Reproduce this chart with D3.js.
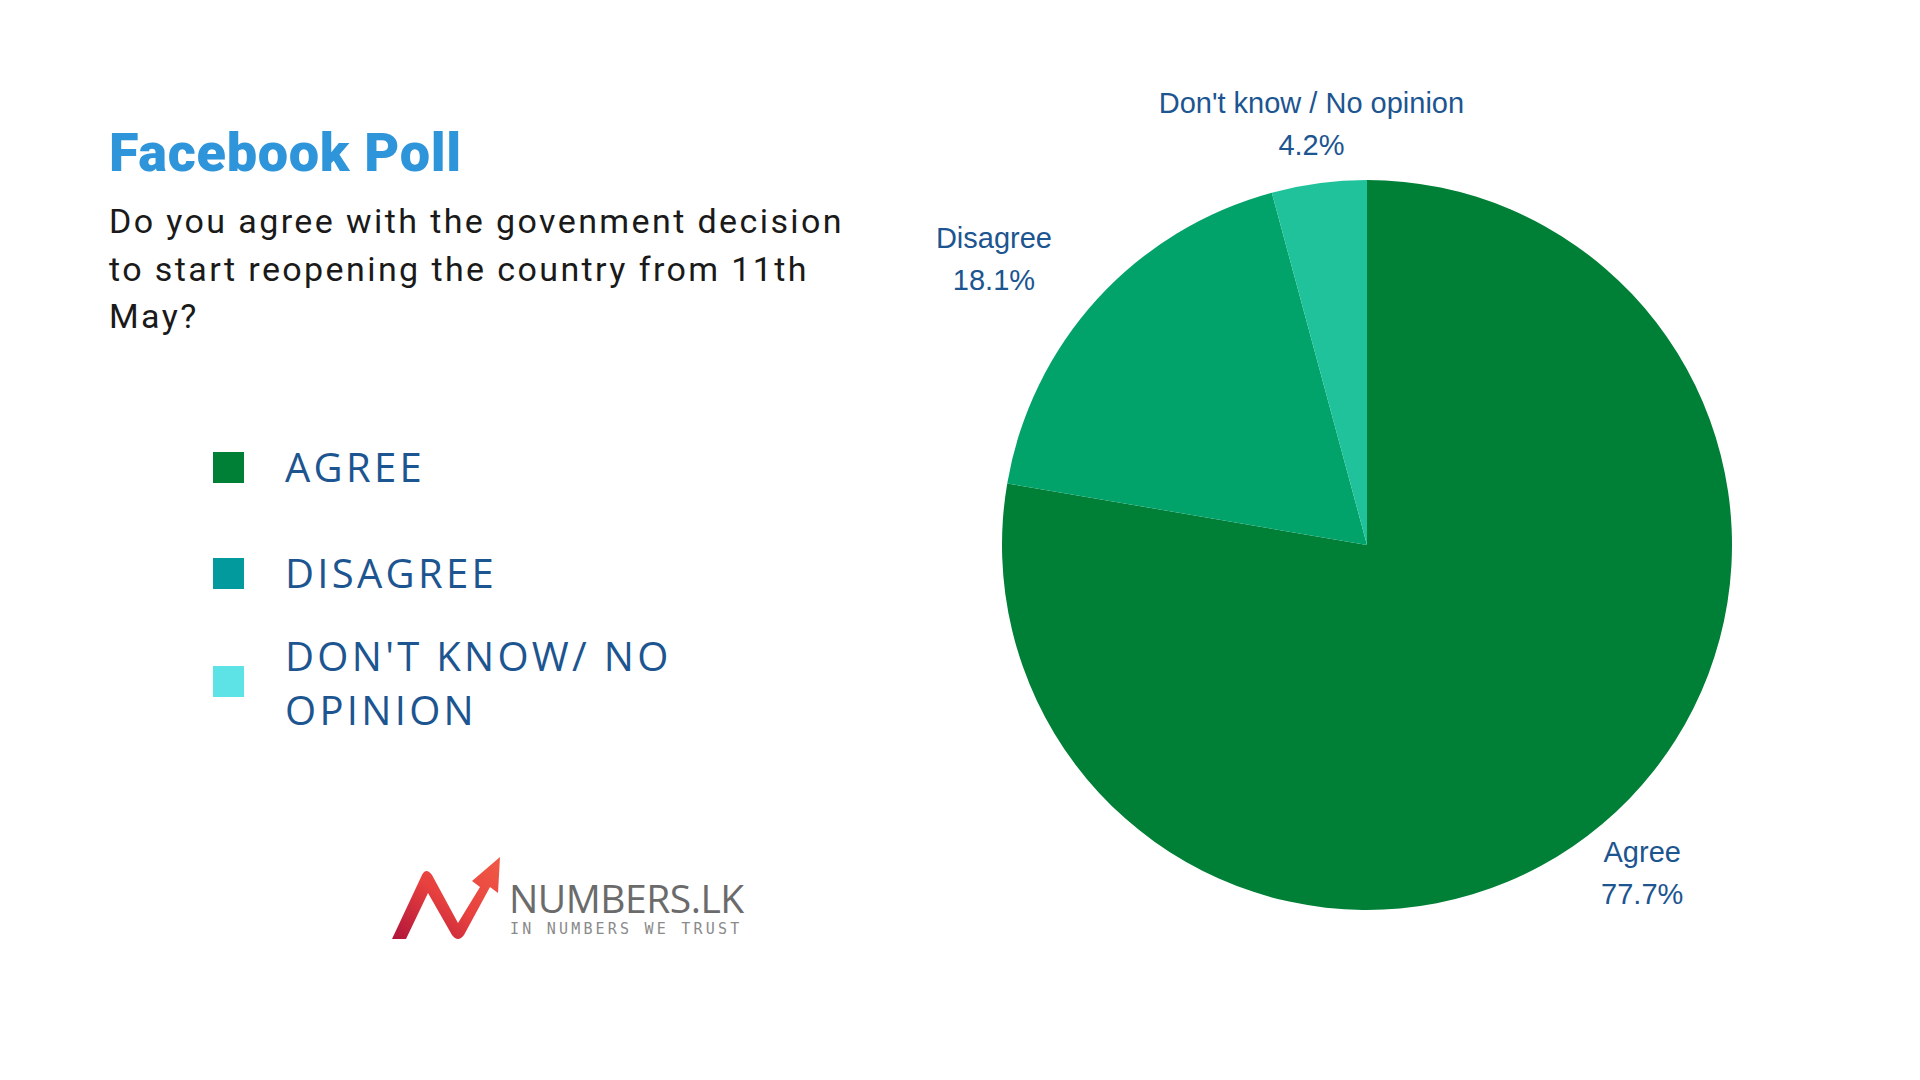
<!DOCTYPE html>
<html><head><meta charset="utf-8">
<script src="https://cdn.jsdelivr.net/npm/d3@7"></script>
<style>
html,body{margin:0;padding:0;background:#fff;}
svg{display:block;}
</style></head>
<body>
<svg id="chart" width="1920" height="1080"></svg>
<script>
// ---- data ----
const categories = ["Agree", "Disagree", "Don't know / No opinion"];
const values = [77.7, 18.1, 4.2];
const valueLabels = ["77.7%", "18.1%", "4.2%"];
const legendLabels = [["AGREE"], ["DISAGREE"], ["DON'T KNOW/ NO", "OPINION"]];
const titleText = "Facebook Poll";
const questionLines = ["Do you agree with the govenment decision", "to start reopening the country from 11th", "May?"];

// ---- style ----
const pieColors = ["#007f36", "#02a36a", "#1fc29b"];
const legendColors = ["#008037", "#039a9d", "#5de2e6"];
const navy = "#1c5590";

const svg = d3.select("#chart");
svg.append("rect").attr("width",1920).attr("height",1080).attr("fill","#fff");

// title
svg.append("text").attr("x",109).attr("y",171)
  .attr("font-family","Roboto").attr("font-weight",900).attr("font-size",54)
  .attr("fill","#2f95da").attr("letter-spacing",0.7).text(titleText);

svg.append("g").selectAll("text").data(questionLines).join("text")
  .attr("x",109).attr("y",(d,i)=>233+i*47.5)
  .attr("font-family","Roboto").attr("font-size",34).attr("letter-spacing",2.4)
  .attr("fill","#1a1a1a").text(d=>d);

// legend
const legendY = [452, 558, 666];
const lg = svg.append("g").selectAll("g").data(categories).join("g")
  .attr("transform",(d,i)=>`translate(213,${legendY[i]})`);
lg.append("rect").attr("width",31).attr("height",31).attr("fill",(d,i)=>legendColors[i]);
lg.each(function(d,i){
  const lines = legendLabels[i];
  const g = d3.select(this);
  const y0 = lines.length === 1 ? 30 : 5;
  g.selectAll("text").data(lines).join("text")
    .attr("x",72).attr("y",(t,j)=>y0 + j*54)
    .attr("font-family","Open Sans").attr("font-size",40).attr("letter-spacing",3.3)
    .attr("fill",navy).text(t=>t);
});

// pie
const cx = 1367, cy = 545, R = 365;
const pie = d3.pie().sort(null).value(d=>d)(values);
const arc = d3.arc().innerRadius(0).outerRadius(R);
const pg = svg.append("g").attr("transform",`translate(${cx},${cy})`);
pg.selectAll("path").data(pie).join("path")
  .attr("d",arc).attr("fill",(d,i)=>pieColors[i]);

// labels
const labelArc = d3.arc().innerRadius(430).outerRadius(430);
const nudge = [[-2,-2],[-55,2],[1,4]];
const lab = pg.selectAll("g.lab").data(pie).join("g").attr("class","lab")
  .attr("transform",(d,i)=>{const c=labelArc.centroid(d);return `translate(${c[0]+nudge[i][0]},${c[1]+nudge[i][1]})`;});
lab.append("text").attr("text-anchor","middle").attr("y",-10)
  .attr("font-family","Liberation Sans, Arial").attr("font-size",29).attr("fill",navy)
  .text((d,i)=>categories[i]);
lab.append("text").attr("text-anchor","middle").attr("y",32)
  .attr("font-family","Liberation Sans, Arial").attr("font-size",29).attr("fill",navy)
  .text((d,i)=>valueLabels[i]);

// logo
const logo = svg.append("g").attr("transform","translate(392,857)");
const defs = svg.append("defs");
const gr = defs.append("linearGradient").attr("id","lg1").attr("x1","0").attr("y1","1").attr("x2","1").attr("y2","0");
gr.append("stop").attr("offset","0").attr("stop-color","#b0153a");
gr.append("stop").attr("offset","0.5").attr("stop-color","#e8413f");
gr.append("stop").attr("offset","1").attr("stop-color","#f05a45");
logo.append("path")
  .attr("d","M0,82 L30,18 Q34,10 40,18 L66,66 L88,30 L80,24 L108,0 L106,36 L98,30 L72,78 Q66,86 60,78 L36,36 L14,82 Z")
  .attr("fill","url(#lg1)");
logo.append("text").attr("x",117).attr("y",56)
  .attr("font-family","Open Sans").attr("font-size",39).attr("fill","#6b6b6b").attr("letter-spacing",-0.5)
  .text("NUMBERS.LK");
logo.append("text").attr("x",118).attr("y",77)
  .attr("font-family","DejaVu Sans Mono").attr("font-size",15).attr("fill","#8a8a8a").attr("letter-spacing",3.2)
  .text("IN NUMBERS WE TRUST");
</script>
</body></html>
